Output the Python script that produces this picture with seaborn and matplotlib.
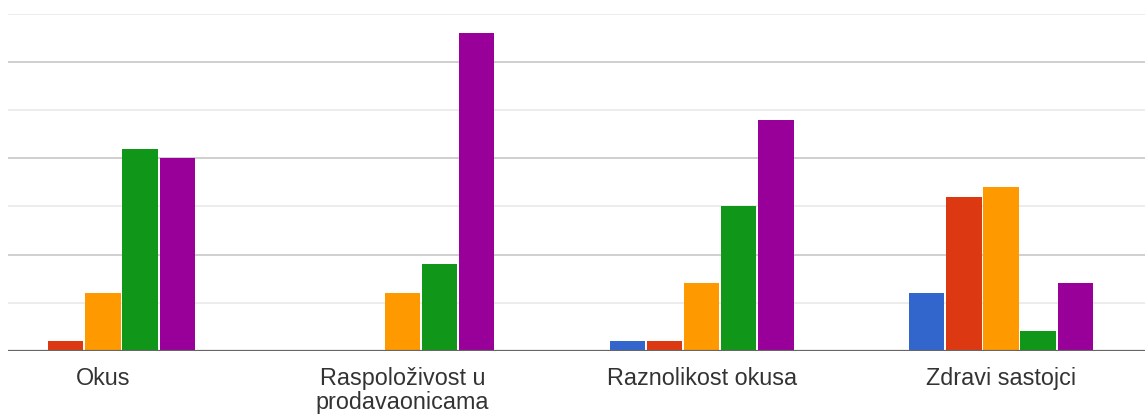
import pandas as pd
import matplotlib.pyplot as plt
import seaborn as sns

# Podaci očitani sa slike (broj odgovora po ocjeni 1-5)
kategorije = ["Okus", "Raspoloživost u\nprodavaonicama", "Raznolikost okusa", "Zdravi sastojci"]
ocjene = ["1", "2", "3", "4", "5"]
ocjena_1 = [0, 0, 1, 6]
ocjena_2 = [1, 0, 1, 16]
ocjena_3 = [6, 6, 7, 17]
ocjena_4 = [21, 9, 15, 2]
ocjena_5 = [20, 33, 24, 7]
boje = ["#3366cc", "#dc3912", "#ff9900", "#109618", "#990099"]

serije = [ocjena_1, ocjena_2, ocjena_3, ocjena_4, ocjena_5]
redovi = []
for ocjena, vrijednosti in zip(ocjene, serije):
    for kat, v in zip(kategorije, vrijednosti):
        redovi.append({"kategorija": kat, "ocjena": ocjena, "broj": v})
df = pd.DataFrame(redovi)

sns.set_style("white")
plt.rcParams["font.family"] = ["Liberation Sans", "DejaVu Sans"]

fig = plt.figure(figsize=(11.45, 4.17), dpi=100)
ax = fig.add_axes([8 / 1145, 66.3 / 417, 1137 / 1145, 336.7 / 417])

sns.barplot(data=df, x="kategorija", y="broj", hue="ocjena", order=kategorije,
            hue_order=ocjene, palette=boje, saturation=1, width=0.62, gap=0.05,
            linewidth=0, legend=False, ax=ax)

# Mreža: glavne linije tamnije, pomoćne svjetlije
ax.set_ylim(0, 35)
ax.set_xlim(-0.317, 3.481)
for y in [5, 15, 25, 35]:
    ax.axhline(y, color="#ebebeb", lw=1.3, zorder=0)
for y in [10, 20, 30]:
    ax.axhline(y, color="#cccccc", lw=1.3, zorder=0)
ax.axhline(0, color="#666666", lw=1.6, zorder=3)

for s in ax.spines.values():
    s.set_visible(False)
ax.set_yticks([])
ax.set_xlabel("")
ax.set_ylabel("")
ax.tick_params(axis="x", length=0, pad=12, labelsize=16.8, labelcolor="#333333")
for lbl in ax.get_xticklabels():
    lbl.set_linespacing(1.03)

plt.savefig("out.png", dpi=100)
plt.close()
